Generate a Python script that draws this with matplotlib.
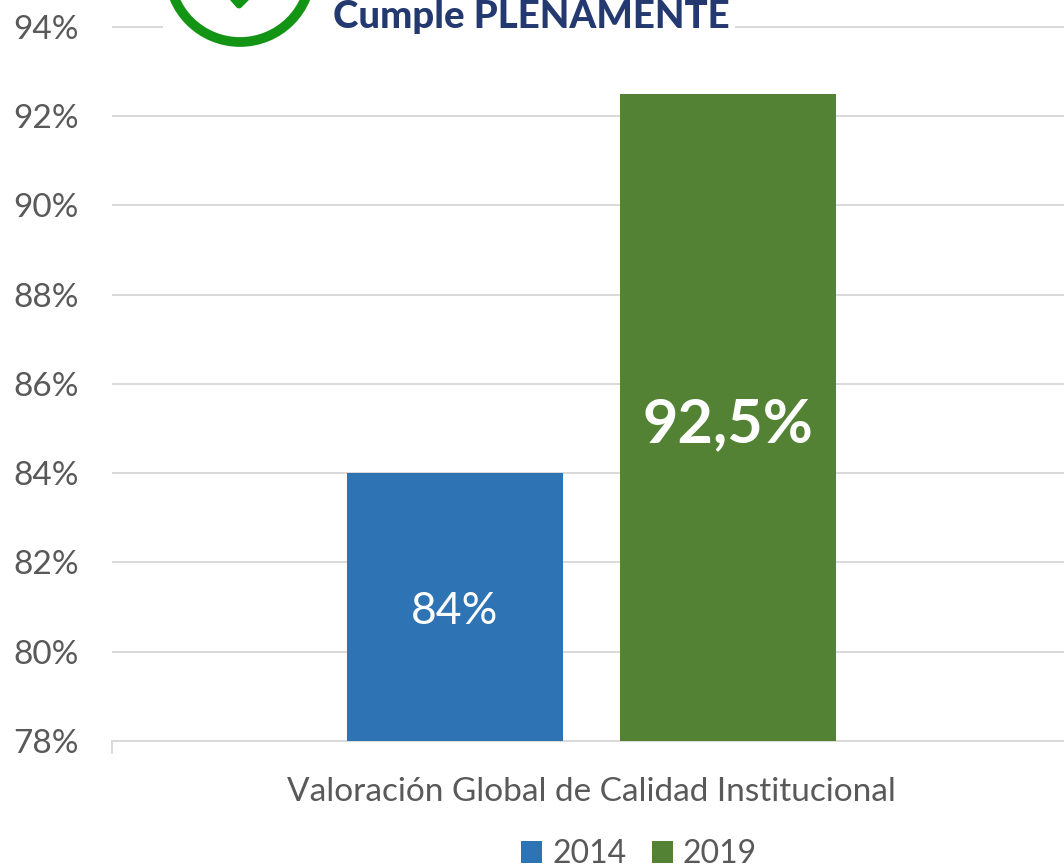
import matplotlib
matplotlib.use("Agg")
import matplotlib.pyplot as plt
from matplotlib.patches import Circle, Rectangle

categories = ["Valoración Global de Calidad Institucional"]
years = ["2014", "2019"]
values = [84, 92.5]
value_labels = ["84%", "92,5%"]
colors = ["#2E74B5", "#548235"]
y_ticks = [78, 80, 82, 84, 86, 88, 90, 92, 94]

W, H = 1064, 867
plt.rcParams['font.family'] = ['Lato', 'DejaVu Sans']
text_color = "#595959"
grid_color = "#D9D9D9"

fig = plt.figure(figsize=(W / 100, H / 100), dpi=100)
ax = fig.add_axes([112 / W, 1 - 741 / H, (W - 112) / W, 741 / H])

ax.set_ylim(78, 78 + 741 / 44.65)
ax.set_xlim(-0.5, -0.5 + (W - 112) / 958)

bar_w = 216 / 958
offsets = [-136.5 / 958, 136.5 / 958]
for i in range(2):
    ax.bar(offsets[i], values[i] - 78, bottom=78, width=bar_w, color=colors[i], zorder=3, label=years[i])

ax.text(offsets[0], 80.9, value_labels[0], color="white", fontsize=32, ha="center", va="center", zorder=4)
ax.text(offsets[1], 85.1, value_labels[1], color="white", fontsize=44, fontweight="bold", ha="center", va="center", zorder=4)

ax.set_yticks(y_ticks)
ax.set_yticklabels([f"{t}%" for t in y_ticks], fontsize=24, color=text_color)
ax.set_xticks([])
ax.tick_params(axis="y", length=0, pad=24)
ax.grid(axis="y", color=grid_color, linewidth=1.4, zorder=1)
ax.set_axisbelow(True)
for side in ["top", "right", "left"]:
    ax.spines[side].set_visible(False)
ax.spines["bottom"].set_color(grid_color)
ax.spines["bottom"].set_linewidth(1.4)

# little tick at the left end of the baseline
fig.add_artist(plt.Line2D([112 / W, 112 / W], [1 - 741 / H, 1 - 753 / H], color=grid_color, linewidth=1.4))

fig.text(591 / W, 1 - 792 / H, categories[0], fontsize=24, color=text_color, ha="center", va="center")

# legend
fig.patches.append(Rectangle((521 / W, 1 - 863 / H), 21 / W, 22 / H, transform=fig.transFigure, facecolor=colors[0], figure=fig))
fig.patches.append(Rectangle((652 / W, 1 - 863 / H), 21 / W, 22 / H, transform=fig.transFigure, facecolor=colors[1], figure=fig))
fig.text(552 / W, 1 - 854 / H, years[0], fontsize=23, color=text_color, ha="left", va="center")
fig.text(683 / W, 1 - 854 / H, years[1], fontsize=23, color=text_color, ha="left", va="center")

# logo pasted over the top of the chart
logo = fig.add_axes([0, 0, 1, 1], zorder=10)
logo.set_xlim(0, W)
logo.set_ylim(H, 0)
logo.axis("off")
logo.patch.set_alpha(0)
logo.add_patch(Rectangle((163, 0), 572, 47, facecolor="white", edgecolor="none"))
logo.add_patch(Circle((240, -29), 71, facecolor="none", edgecolor="#149414", linewidth=7))
logo.plot([232, 239, 247], [-3, 5, -3], color="#149414", linewidth=5)
logo.text(333, 28, "Cumple PLENAMENTE", color="#24396F", fontsize=27.6, fontweight="black", ha="left", va="baseline")

plt.savefig("out.png", dpi=100)
